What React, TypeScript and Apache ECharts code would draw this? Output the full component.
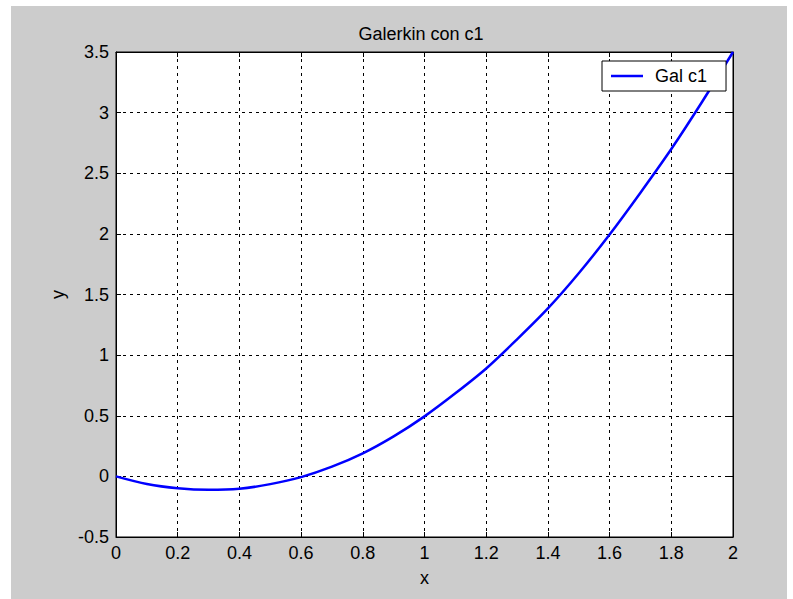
import React, { useEffect, useRef } from "react";
import * as echarts from "echarts";

const xValues = [0, 0.1, 0.2, 0.3, 0.4, 0.5, 0.6, 0.7, 0.8, 0.9, 1.0, 1.1, 1.2, 1.3, 1.4, 1.5, 1.6, 1.7, 1.8, 1.9, 2.0];
const yValues = [0, -0.063, -0.098, -0.111, -0.102, -0.064, -0.006, 0.08, 0.19, 0.33, 0.495, 0.685, 0.89, 1.13, 1.385, 1.675, 1.995, 2.34, 2.7, 3.09, 3.5];
const seriesName = "Gal c1";
const titleText = "Galerkin con c1";
const xName = "x";
const yName = "y";

const FONT = "'Liberation Sans', Arial, Helvetica, sans-serif";

export default function App() {
  const ref = useRef<HTMLDivElement>(null);
  useEffect(() => {
    if (!ref.current) return;
    const chart = echarts.init(ref.current, null, { renderer: "svg" });
    const data = xValues.map((x, i) => [x, yValues[i]]);
    const labelStyle = { color: "#000", fontSize: 18, fontFamily: FONT };
    const split = { show: true, lineStyle: { color: "#000", type: [3, 4] as any, width: 1 } };
    chart.setOption({
      animation: false,
      backgroundColor: "#ffffff",
      textStyle: { fontFamily: FONT },
      graphic: [
        { type: "rect", z: -10, shape: { x: 11, y: 6, width: 776, height: 593 }, style: { fill: "#cccccc" }, silent: true },
      ],
      title: {
        text: titleText,
        left: 416,
        top: 20,
        textAlign: "center",
        textStyle: { color: "#000", fontSize: 18, fontWeight: "normal", fontFamily: FONT },
      },
      grid: {
        left: 116, top: 52, width: 617, height: 485,
        show: true, backgroundColor: "#ffffff", borderColor: "#000", borderWidth: 1,
      },
      legend: {
        left: 602, top: 61,
        orient: "vertical",
        backgroundColor: "#ffffff",
        borderColor: "#000", borderWidth: 1,
        padding: [6, 19, 6, 9],
        itemWidth: 32, itemHeight: 18,
        textStyle: { color: "#000", fontSize: 18, fontFamily: FONT, padding: [0, 0, 0, 7] },
        data: [{ name: seriesName, icon: "path://M0,8 L32,8 L32,10.5 L0,10.5 Z" }],
      },
      xAxis: [
        {
          type: "value", min: 0, max: 2, interval: 0.2, position: "bottom",
          name: xName, nameLocation: "middle", nameGap: 32,
          nameTextStyle: { color: "#000", fontSize: 18, fontFamily: FONT },
          axisLine: { show: true, onZero: false, lineStyle: { color: "#000" } },
          axisTick: { show: true, inside: true, length: 5, lineStyle: { color: "#000" } },
          axisLabel: { ...labelStyle, margin: 7, formatter: (v: number) => String(+v.toFixed(1)) },
          splitLine: split,
        },
        {
          type: "value", min: 0, max: 2, interval: 0.2, position: "top",
          axisLine: { show: true, onZero: false, lineStyle: { color: "#000" } },
          axisTick: { show: true, inside: true, length: 5, lineStyle: { color: "#000" } },
          axisLabel: { show: false },
          splitLine: { show: false },
        },
      ],
      yAxis: [
        {
          type: "value", min: -0.5, max: 3.5, interval: 0.5, position: "left",
          name: yName, nameLocation: "middle", nameGap: 46, nameRotate: 90,
          nameTextStyle: { color: "#000", fontSize: 18, fontFamily: FONT },
          axisLine: { show: true, onZero: false, lineStyle: { color: "#000" } },
          axisTick: { show: true, inside: true, length: 5, lineStyle: { color: "#000" } },
          axisLabel: { ...labelStyle, margin: 7, formatter: (v: number) => String(+v.toFixed(1)) },
          splitLine: split,
        },
        {
          type: "value", min: -0.5, max: 3.5, interval: 0.5, position: "right",
          axisLine: { show: true, onZero: false, lineStyle: { color: "#000" } },
          axisTick: { show: true, inside: true, length: 5, lineStyle: { color: "#000" } },
          axisLabel: { show: false },
          splitLine: { show: false },
        },
      ],
      series: [
        {
          name: seriesName,
          type: "line",
          data,
          symbol: "none",
          smooth: 0.3,
          lineStyle: { color: "#0000ff", width: 2.5 },
          itemStyle: { color: "#0000ff" },
          xAxisIndex: 0, yAxisIndex: 0,
        },
      ],
    });
    return () => chart.dispose();
  }, []);
  return (
    <div
      ref={ref}
      style={{ position: "absolute", left: 0, top: 0, width: 793, height: 599 }}
    />
  );
}
